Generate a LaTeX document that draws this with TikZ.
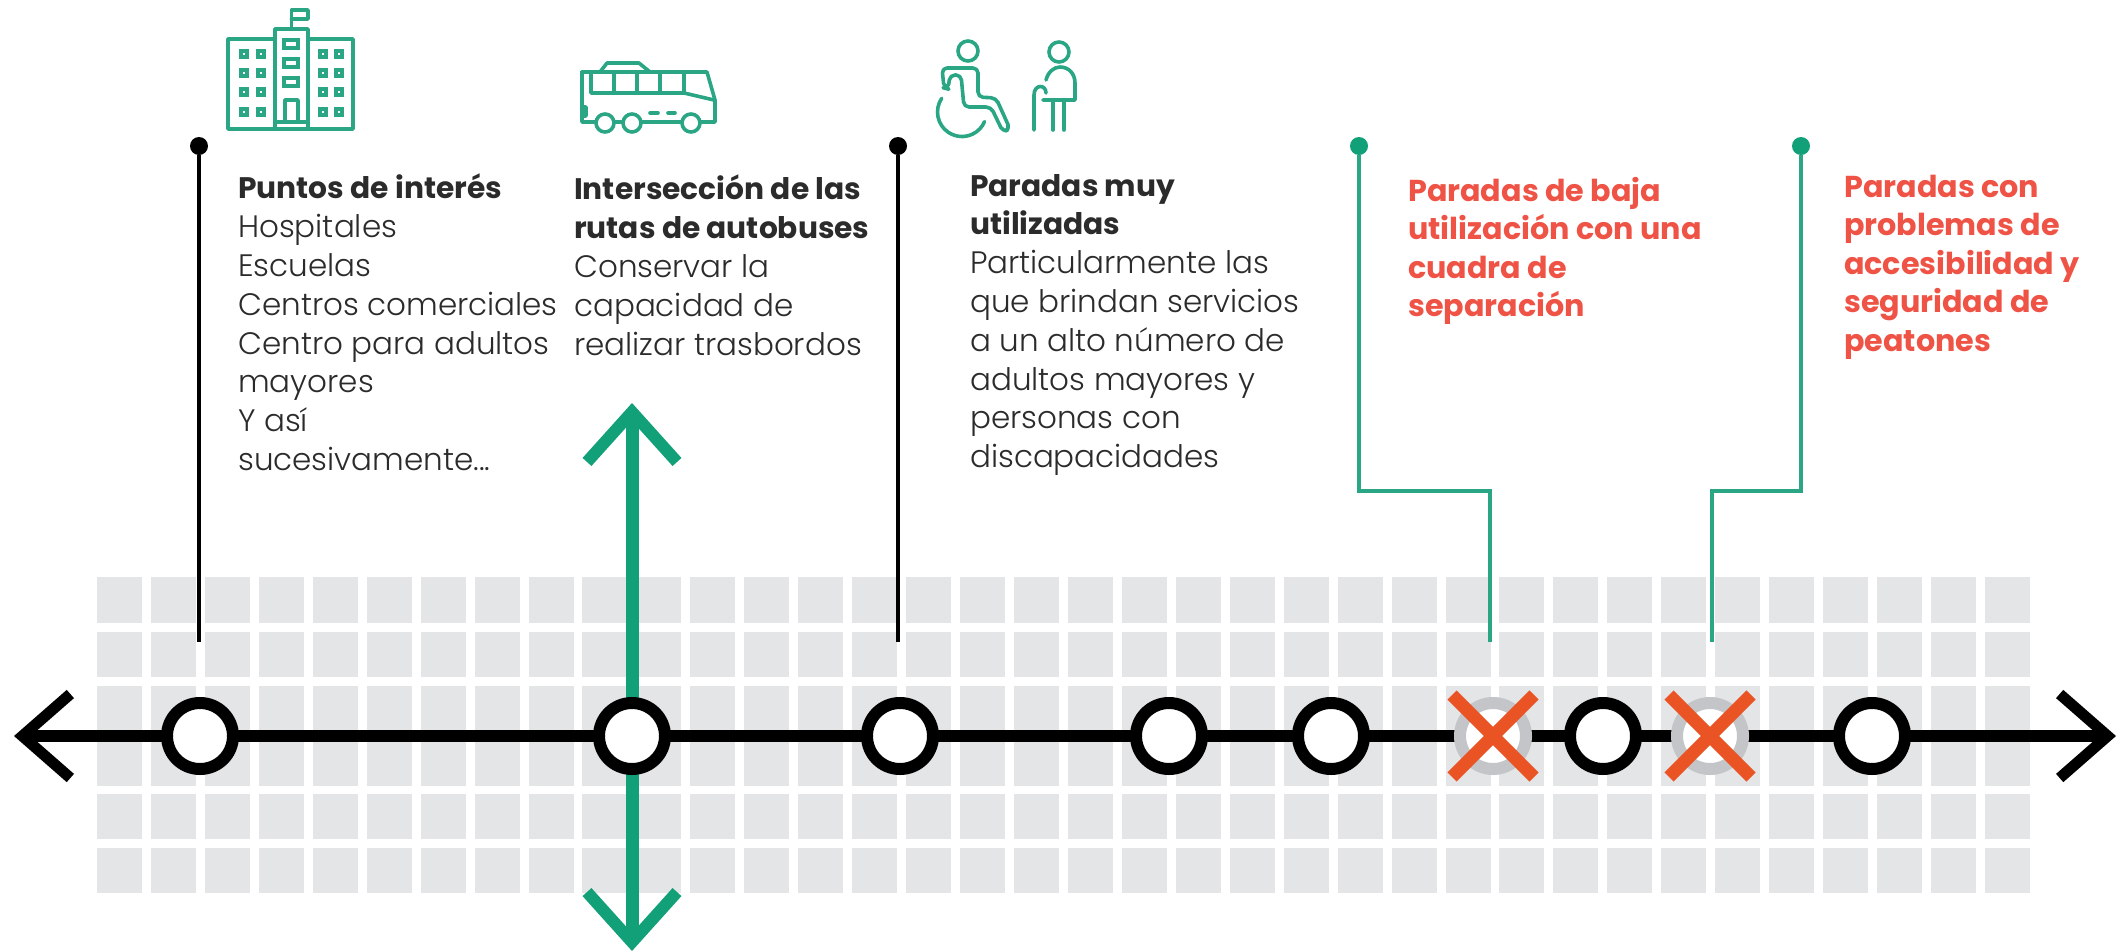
\documentclass[tikz,border=0pt]{standalone}
\usepackage{fontspec}
\setmainfont{Poppins}
\newfontfamily\lightfont{Poppins Light}
\usetikzlibrary{arrows.meta}
\definecolor{cellgray}{HTML}{E4E5E7}
\definecolor{ringgray}{HTML}{C3C5C8}
\definecolor{routegreen}{HTML}{12A079}
\definecolor{icongreen}{HTML}{2BA685}
\definecolor{crossred}{HTML}{EA5324}
\definecolor{notered}{HTML}{EE5346}
\definecolor{textgray}{HTML}{2B2B2B}
\newcommand{\headtext}[1]{{\fontsize{29.7}{38.8}\selectfont\bfseries #1}}
\tikzset{
	barb/.tip={Straight Barb[length=48pt,width=84pt,line width=11pt]},
	greenbarb/.tip={Straight Barb[length=50pt,width=90pt,line width=12pt]},
	stopmark/.style={circle, draw=black, fill=white, line width=12pt, minimum size=66pt, inner sep=0pt},
	deadstop/.style={stopmark, draw=ringgray},
	leaderdot/.style={circle, fill=black, minimum size=18pt, inner sep=0pt},
	greendot/.style={leaderdot, fill=routegreen},
	leader/.style={draw=black, line width=4pt},
	greenleader/.style={draw=icongreen, line width=4pt},
	crossline/.style={draw=crossred, line width=13pt},
	iconline/.style={draw=icongreen, line width=3.6pt, line join=round, line cap=round},
	windowline/.style={draw=icongreen, line width=3.1pt},
	note/.style={anchor=north west, inner sep=0pt, align=left, text=textgray, font=\fontsize{31}{38.8}\selectfont},
	rednote/.style={note, text=notered, font=\fontsize{30.2}{38.4}\selectfont\bfseries}
}
\begin{document}
\begin{tikzpicture}[x=1pt,y=-1pt]
	\useasboundingbox (0,0) rectangle (2118,951);
	% grid behind the line
	\foreach \c in {0,...,35} {
		\pgfmathsetmacro{\cx}{97+53.94*\c}
		\foreach \y/\h in {577/46,632/45,686/100,794/45,848/45} {
			\fill[cellgray] (\cx,\y) rectangle ++(45,\h);
		}
	}

	% cross route
	\coordinate (crosstop) at (632,403);
	\coordinate (crossbottom) at (632,951);
	\draw[routegreen, line width=13pt, greenbarb-greenbarb] (crossbottom) -- (crosstop);

	% main route and stops
	\coordinate (routeleft) at (14,736);
	\coordinate (routeright) at (2116,736);
	\draw[black, line width=12pt, barb-barb] (routeleft) -- (routeright);
	\node[stopmark] (stopa) at (200,736) {};
	\node[stopmark] (stopb) at (632,736) {};
	\node[stopmark] (stopc) at (900,736) {};
	\node[stopmark] (stopd) at (1169,736) {};
	\node[stopmark] (stope) at (1331,736) {};
	\node[deadstop] (stopf) at (1493,736) {};
	\node[stopmark] (stopg) at (1603,736) {};
	\node[deadstop] (stoph) at (1710,736) {};
	\node[stopmark] (stopi) at (1872,736) {};
	\foreach \s in {stopf,stoph} {
		\draw[crossline] ([shift={(-41,-41)}]\s.center) -- ([shift={(41,41)}]\s.center);
		\draw[crossline] ([shift={(41,-41)}]\s.center) -- ([shift={(-41,41)}]\s.center);
	}

	% leaders
	\node[leaderdot] (dota) at (199,146) {};
	\node[leaderdot] (dotc) at (898,146) {};
	\node[greendot] (dotf) at (1359,146) {};
	\node[greendot] (doth) at (1801,146) {};
	\coordinate (enda) at (199,642);
	\coordinate (endc) at (898,642);
	\coordinate (endf) at (1490,642);
	\coordinate (endh) at (1712,642);
	\draw[leader] (dota) -- (enda);
	\draw[leader] (dotc) -- (endc);
	\draw[greenleader] (dotf) |- (1490,491) -- (endf);
	\draw[greenleader] (doth) |- (1712,491) -- (endh);

	% texts
	\node[note] (notea) at (238,174) {\headtext{Puntos de interés}\\\lightfont Hospitales\\\lightfont Escuelas\\\lightfont Centros comerciales\\\lightfont Centro para adultos\\\lightfont mayores\\\lightfont Y así\\\lightfont sucesivamente...};
	\node[note] (noteb) at (574,175) {\headtext{Intersección de las}\\\headtext{rutas de autobuses}\\\lightfont Conservar la\\\lightfont capacidad de\\\lightfont realizar trasbordos};
	\node[note] (notec) at (970,174) {\headtext{Paradas muy}\\\headtext{utilizadas}\\\lightfont Particularmente las\\\lightfont que brindan servicios\\\lightfont a un alto número de\\\lightfont adultos mayores y\\\lightfont personas con\\\lightfont discapacidades};
	\node[rednote] (notef) at (1408,177) {Paradas de baja\\utilización con una\\cuadra de\\separación};
	\node[rednote] (noteh) at (1844,175) {Paradas con\\problemas de\\accesibilidad y\\seguridad de\\peatones};

	% building icon
	\draw[iconline] (228,39) rectangle (353,129);
	\draw[iconline, fill=white] (275,29) rectangle (308,129);
	\draw[iconline] (291.5,29) -- (291.5,10) -- (308,10) -- (308,19) -- (291.5,19);
	\draw[iconline] (275,122) -- (308,122);
	\draw[iconline] (285,122) -- (285,100) -- (298,100) -- (298,122);
	\foreach \y in {40,59,78} {
		\draw[windowline] (284,\y) rectangle ++(14,8);
	}
	\foreach \x in {241,258,320,336} {
		\foreach \y in {51,70,89,109} {
			\draw[windowline] (\x,\y) rectangle ++(6,6);
		}
	}

	% bus icon
	\draw[iconline] (600,72) -- (607,63) -- (639,63) -- (650,72);
	\draw[iconline] (582,72) -- (707,72) -- (715,100) -- (715,122) -- (700,122);
	\draw[iconline] (582,72) -- (582,122) -- (596,122);
	\draw[iconline] (614,122) -- (623,122);
	\draw[iconline] (641,122) -- (682,122);
	\draw[iconline] (591,72) -- (591,93) -- (684,93) -- (714,100);
	\foreach \x in {614,637,660} {
		\draw[iconline] (\x,72) -- (\x,93);
	}
	\draw[iconline] (684,72) -- (684,93);
	\draw[iconline] (650,113) -- (658,113);
	\draw[iconline] (668,113) -- (675,113);
	\draw[iconline] (582,107) -- (586,107) -- (586,116) -- (582,116);
	\foreach \x in {605,632,691} {
		\draw[iconline] (\x,123) circle[radius=9];
	}

	% wheelchair and elder icons
	\draw[iconline] (968,51) circle[radius=10];
	\draw[iconline, rounded corners=5pt] (944,88) -- (942,68) -- (978,68) -- (978,97) -- (996,98) -- (1010,129) -- (1003,132) -- (991,107) -- (964,107) -- (961,75) -- (950,75) -- (948,89) -- cycle;
	\draw[iconline] (941.7,98.3) arc[start angle=214, end angle=23, radius=24.5];
	\draw[iconline] (1059,52) circle[radius=10];
	\draw[iconline] (1046,80) .. controls (1048,72) and (1054,67) .. (1060,67) .. controls (1069,67) and (1075,74) .. (1075,83) -- (1075,100) -- (1043,100);
	\draw[iconline] (1053,100) -- (1053,130);
	\draw[iconline] (1064,100) -- (1064,130);
	\draw[iconline] (1034,130) -- (1034,95) .. controls (1034,84) and (1046,84) .. (1046,93);
\end{tikzpicture}
\end{document}
